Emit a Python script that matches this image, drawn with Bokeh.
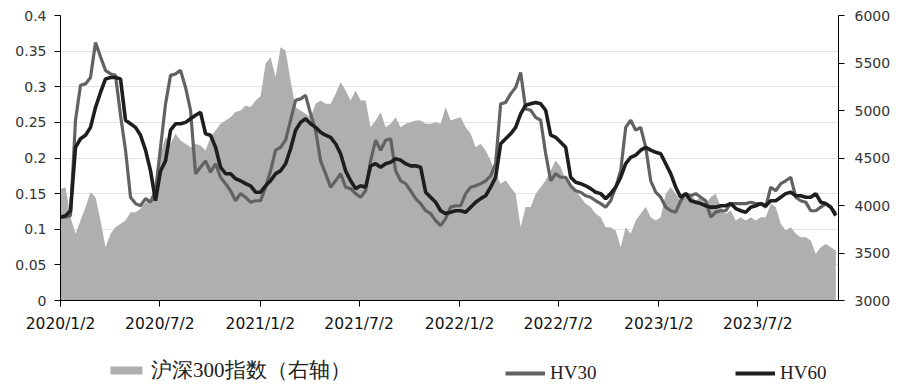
import pandas as pd
from bokeh.plotting import figure
from bokeh.layouts import column
from bokeh.models import (LinearAxis, Range1d, FixedTicker, CustomJSTickFormatter,
                          Legend, LegendItem, ColumnDataSource)
from bokeh.embed import file_html
from bokeh.resources import INLINE

# ---------------- data ----------------
start_date = "2020-01-02"
end_date = "2023-11-22"
n_points = 156
x_end_date = "2023-11-27"

csi300 = [
    4175, 4193, 3877, 3702, 3842, 3983, 4140, 4088, 3842, 3561,
    3702, 3772, 3807, 3842, 3930, 3930, 3965, 4035, 4053, 4158,
    4544, 4719, 4649, 4754, 4684, 4649, 4614, 4649, 4632, 4579,
    4719, 4789, 4860, 4895, 4930, 4983, 5000, 5053, 5035, 5105,
    5150, 5491, 5561, 5351, 5667, 5632, 5316, 5035, 5000, 4965,
    4930, 5070, 5105, 5070, 5070, 5176, 5298, 5211, 5105, 5211,
    5105, 5105, 4825, 4895, 4983, 4825, 4860, 4930, 4825, 4860,
    4877, 4895, 4895, 4860, 4860, 4877, 4860, 5035, 4895, 4912,
    4930, 4825, 4754, 4614, 4649, 4579, 4474, 4333, 4228, 4263,
    4193, 4123, 3772, 3983, 3983, 4123, 4193, 4263, 4368, 4474,
    4404, 4263, 4228, 4158, 4088, 4018, 3983, 3912, 3877, 3772,
    3772, 3737, 3561, 3772, 3702, 3842, 3912, 3983, 3877, 3842,
    3877, 4123, 4193, 4123, 4053, 4088, 4123, 4053, 4088, 4018,
    4088, 4123, 3983, 3912, 3947, 3842, 3877, 3842, 3877, 3842,
    3877, 3877, 4018, 3983, 3807, 3737, 3772, 3702, 3667, 3667,
    3632, 3491, 3561, 3596, 3561, 3526,
]

hv30 = [
    0.117, 0.117, 0.119, 0.253, 0.302, 0.304, 0.313, 0.362, 0.342, 0.323,
    0.318, 0.316, 0.260, 0.211, 0.145, 0.136, 0.133, 0.143, 0.138, 0.154,
    0.215, 0.276, 0.316, 0.318, 0.323, 0.299, 0.267, 0.178, 0.187, 0.196,
    0.180, 0.192, 0.173, 0.164, 0.154, 0.140, 0.150, 0.145, 0.138, 0.140,
    0.140, 0.159, 0.182, 0.211, 0.215, 0.225, 0.253, 0.281, 0.283, 0.288,
    0.262, 0.239, 0.196, 0.178, 0.159, 0.168, 0.178, 0.159, 0.157, 0.150,
    0.145, 0.154, 0.196, 0.225, 0.211, 0.225, 0.227, 0.182, 0.168, 0.164,
    0.154, 0.143, 0.136, 0.126, 0.122, 0.112, 0.105, 0.115, 0.131, 0.133,
    0.133, 0.150, 0.159, 0.161, 0.164, 0.168, 0.175, 0.192, 0.276, 0.278,
    0.290, 0.299, 0.320, 0.269, 0.267, 0.257, 0.253, 0.206, 0.168, 0.178,
    0.173, 0.173, 0.161, 0.154, 0.152, 0.147, 0.145, 0.140, 0.136, 0.131,
    0.140, 0.159, 0.182, 0.243, 0.253, 0.239, 0.243, 0.215, 0.168, 0.152,
    0.145, 0.131, 0.126, 0.124, 0.140, 0.150, 0.147, 0.150, 0.145, 0.140,
    0.117, 0.124, 0.126, 0.126, 0.136, 0.136, 0.136, 0.136, 0.138, 0.136,
    0.136, 0.131, 0.159, 0.154, 0.164, 0.168, 0.173, 0.145, 0.140, 0.138,
    0.126, 0.126, 0.131, 0.136, 0.131, 0.122,
]

hv60 = [
    0.117, 0.119, 0.126, 0.215, 0.227, 0.232, 0.243, 0.271, 0.292, 0.311,
    0.313, 0.313, 0.311, 0.253, 0.248, 0.243, 0.232, 0.211, 0.182, 0.140,
    0.182, 0.196, 0.239, 0.248, 0.248, 0.250, 0.255, 0.260, 0.264, 0.234,
    0.232, 0.215, 0.187, 0.178, 0.178, 0.171, 0.168, 0.164, 0.161, 0.152,
    0.152, 0.161, 0.168, 0.178, 0.182, 0.192, 0.213, 0.239, 0.250, 0.255,
    0.248, 0.243, 0.236, 0.232, 0.229, 0.220, 0.206, 0.182, 0.168, 0.157,
    0.161, 0.159, 0.189, 0.192, 0.187, 0.192, 0.194, 0.199, 0.197, 0.192,
    0.189, 0.189, 0.187, 0.152, 0.145, 0.138, 0.126, 0.122, 0.124, 0.126,
    0.126, 0.124, 0.131, 0.138, 0.143, 0.147, 0.159, 0.173, 0.220, 0.227,
    0.234, 0.243, 0.262, 0.274, 0.276, 0.278, 0.276, 0.267, 0.232, 0.229,
    0.222, 0.215, 0.173, 0.166, 0.164, 0.161, 0.157, 0.152, 0.150, 0.143,
    0.150, 0.159, 0.173, 0.192, 0.201, 0.204, 0.211, 0.215, 0.211, 0.208,
    0.206, 0.192, 0.178, 0.159, 0.145, 0.150, 0.140, 0.138, 0.136, 0.133,
    0.131, 0.131, 0.133, 0.133, 0.136, 0.129, 0.126, 0.124, 0.131, 0.133,
    0.136, 0.133, 0.140, 0.140, 0.145, 0.150, 0.152, 0.147, 0.147, 0.145,
    0.145, 0.150, 0.138, 0.136, 0.131, 0.119,
]

x_tick_labels = ["2020/1/2", "2020/7/2", "2021/1/2", "2021/7/2",
                 "2022/1/2", "2022/7/2", "2023/1/2", "2023/7/2"]
left_ticks = [0, 0.05, 0.1, 0.15, 0.2, 0.25, 0.3, 0.35, 0.4]
right_ticks = [3000, 3500, 4000, 4500, 5000, 5500, 6000]

series_names = ["沪深300指数（右轴）", "HV30", "HV60"]

# colours / styles
area_color = "#afafaf"
hv30_color = "#626262"
hv60_color = "#1e1e1e"

# ---------------- main chart ----------------
dates = pd.date_range(start_date, end_date, periods=n_points)
src = ColumnDataSource(dict(date=dates, csi=csi300, hv30=hv30, hv60=hv60))

x_range = Range1d(pd.Timestamp(start_date), pd.Timestamp(x_end_date))
p = figure(width=900, height=335, x_axis_type="datetime",
           x_range=x_range, y_range=Range1d(left_ticks[0], left_ticks[-1]),
           output_backend="svg", toolbar_location=None,
           min_border_left=60, min_border_right=62, min_border_top=15,
           min_border_bottom=35)
p.outline_line_color = None
p.background_fill_color = "white"
p.extra_y_ranges = {"right": Range1d(right_ticks[0], right_ticks[-1])}

p.varea(x="date", y1=right_ticks[0], y2="csi", source=src,
        y_range_name="right", fill_color=area_color)
p.line("date", "hv30", source=src, line_color=hv30_color, line_width=3.2)
p.line("date", "hv60", source=src, line_color=hv60_color, line_width=3.6)

p.xgrid.grid_line_color = None
p.ygrid.grid_line_color = "#e3e3e3"
p.ygrid.grid_line_width = 1
p.ygrid.ticker = FixedTicker(ticks=left_ticks)

ly = p.left[0]
ly.ticker = FixedTicker(ticks=left_ticks)
ly.formatter = CustomJSTickFormatter(
    code="return tick.toFixed(2).replace(/\\.?0+$/, '');")

ry = LinearAxis(y_range_name="right", ticker=FixedTicker(ticks=right_ticks))
p.add_layout(ry, "right")

bx = p.below[0]
bx.ticker = FixedTicker(ticks=[pd.to_datetime(t, format="%Y/%m/%d").value // 10**6
                               for t in x_tick_labels])
bx.formatter = CustomJSTickFormatter(code="""
const d = new Date(tick);
return d.getUTCFullYear() + "/" + (d.getUTCMonth() + 1) + "/" + d.getUTCDate();
""")

for ax in (ly, ry, bx):
    ax.axis_line_color = "black"
    ax.axis_line_width = 1
    ax.major_tick_line_color = "black"
    ax.major_tick_in = 0
    ax.major_tick_out = 6
    ax.minor_tick_line_color = None
    ax.major_label_text_font = "DejaVu Sans"
    ax.major_label_text_font_size = "14px"
    ax.major_label_text_color = "#333333"

ly.major_label_standoff = 8
ry.major_label_standoff = 10
bx.major_label_standoff = 8
bx.major_label_text_font_size = "15.5px"
bx.major_label_text_color = "#111111"

# ---------------- legend strip below ----------------
# (its frame is aligned with the chart's frame by the column layout)
lg = figure(width=900, height=50, x_range=Range1d(0, 1), y_range=Range1d(0, 1),
            output_backend="svg", toolbar_location=None,
            min_border_left=0, min_border_right=0, min_border_top=0,
            min_border_bottom=0, x_axis_location=None, y_axis_location=None)
lg.outline_line_color = None
lg.xgrid.visible = False
lg.ygrid.visible = False
# same series, drawn far outside this strip's ranges, so only their legend keys show
k_area = lg.varea(x="date", y1=right_ticks[0], y2="csi", source=src,
                  fill_color=area_color)
k30 = lg.line("date", "hv30", source=src, line_color=hv30_color, line_width=4)
k60 = lg.line("date", "hv60", source=src, line_color=hv60_color, line_width=4)

legend_specs = [(series_names[0], k_area, 46, "21px"),
                (series_names[1], k30, 445, "19px"),
                (series_names[2], k60, 675, "19px")]
for name, rend, xpos, fsize in legend_specs:
    lg.add_layout(Legend(items=[LegendItem(label=name, renderers=[rend])],
                         location=(xpos, 1), orientation="horizontal",
                         glyph_width=40, glyph_height=10, label_standoff=5,
                         label_height=22, label_text_font="Liberation Serif",
                         label_text_font_size=fsize, label_text_color="#222222",
                         border_line_color=None, background_fill_alpha=0,
                         padding=0, margin=0))

open("out.html", "w").write(file_html(column(p, lg, spacing=0), INLINE))
